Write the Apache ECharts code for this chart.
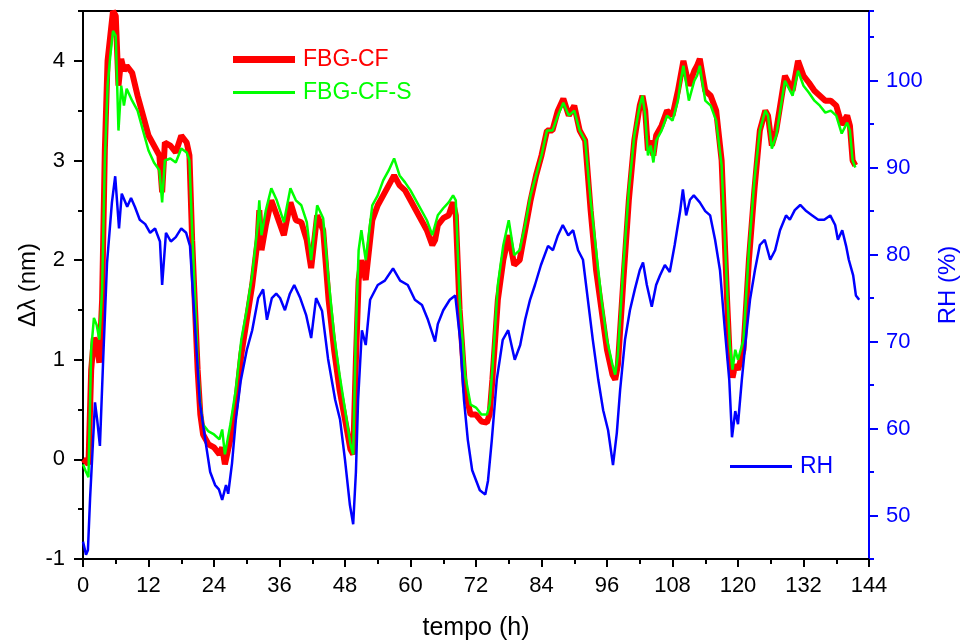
<!DOCTYPE html>
<html><head><meta charset="utf-8">
<script src="https://cdn.jsdelivr.net/npm/echarts@6/dist/echarts.min.js"></script>
<style>html,body{margin:0;padding:0;background:#fff}#c{width:962px;height:644px}</style>
</head><body><div id="c"></div>
<script>
// time (h) for the two FBG series
const tFBG = [
  0,0.5,1,1.5,2,2.5,3,3.5,4,4.5,
  5,5.5,6,6.5,7,7.5,8,9,10,11,
  12,13,14,14.5,15,16,17,18,19,19.5,
  20,21,21.5,22,23,24,25,25.5,26,27,
  28,29,30,31,32,32.3,32.7,33.5,34.5,35.5,
  36.8,38,39,40,41,41.8,42.9,44,45,46,
  47,48,49,49.5,50,50.5,51,51.8,53,54,
  55,56,57,58,59,60,61,62,63,64,
  64.5,65,66,67,67.8,68.3,69,70,71,72,
  73,74,74.5,75,76,77,78,79,80,81,
  82,83,84,85,86,87,88,89,90,91,
  92,93,94,95,96,97,97.5,98,99,100,
  101,102,102.5,103,103.5,104,104.5,105,106,107,
  108,109,109.5,110,111,112,112.5,113,114,115,
  116,117,118,118.5,119,119.5,120,121,122,123,
  124,125,125.5,126.2,127,128.6,130,131,132,133,
  134,135,136,137,138,139,140,140.5,141,141.5
];
// Δλ (nm) FBG-CF
const fbgCF = [
  0,-0.02,-0.05,0.9,1.22,1.15,0.97,1.6,3.1,4.0,
  4.25,4.5,4.45,3.75,4.02,3.9,3.95,3.88,3.65,3.45,
  3.25,3.15,3.05,2.68,3.18,3.15,3.08,3.25,3.18,3.05,
  2.2,0.9,0.45,0.25,0.15,0.12,0.05,0.12,-0.05,0.2,
  0.55,1.05,1.4,1.75,2.2,2.5,2.1,2.35,2.6,2.45,
  2.25,2.58,2.4,2.38,2.2,1.92,2.45,2.3,1.6,1.1,
  0.7,0.4,0.1,0.05,1.0,1.8,2.0,1.8,2.4,2.55,
  2.65,2.75,2.85,2.75,2.7,2.6,2.5,2.4,2.3,2.15,
  2.2,2.35,2.42,2.45,2.58,2.45,1.5,0.7,0.45,0.45,
  0.38,0.37,0.45,0.8,1.6,2.0,2.25,1.95,2.0,2.3,
  2.6,2.85,3.05,3.3,3.3,3.5,3.62,3.45,3.55,3.3,
  3.2,2.5,1.9,1.5,1.1,0.85,0.8,0.95,1.8,2.6,
  3.2,3.55,3.65,3.5,3.1,3.2,3.05,3.25,3.35,3.5,
  3.45,3.7,3.85,4.0,3.75,3.9,3.95,4.02,3.7,3.65,
  3.5,3.0,1.6,1.0,0.82,0.95,0.9,1.1,2.0,2.7,
  3.3,3.5,3.45,3.15,3.3,3.85,3.7,4.0,3.85,3.78,
  3.7,3.65,3.6,3.6,3.55,3.36,3.45,3.35,3.0,2.95
];
// Δλ (nm) FBG-CF-S
const fbgCFS = [
  -0.05,-0.12,-0.18,1.1,1.42,1.35,1.2,1.7,3.0,3.75,
  4.05,4.3,4.25,3.3,3.75,3.55,3.72,3.6,3.5,3.3,
  3.1,2.98,2.9,2.58,3.0,3.02,2.98,3.12,3.08,3.0,
  2.3,1.0,0.55,0.35,0.28,0.25,0.2,0.3,0.05,0.35,
  0.7,1.2,1.5,1.85,2.35,2.6,2.25,2.5,2.72,2.6,
  2.38,2.72,2.6,2.55,2.38,2.0,2.55,2.42,1.8,1.25,
  0.85,0.5,0.15,0.05,1.3,2.1,2.3,2.0,2.55,2.65,
  2.8,2.9,3.02,2.85,2.78,2.7,2.6,2.5,2.4,2.25,
  2.35,2.45,2.52,2.58,2.65,2.6,1.6,0.85,0.55,0.52,
  0.45,0.45,0.55,0.9,1.75,2.15,2.4,2.05,2.1,2.35,
  2.65,2.85,3.05,3.3,3.3,3.45,3.58,3.45,3.5,3.3,
  3.2,2.6,2.1,1.6,1.2,0.95,0.85,1.05,1.95,2.7,
  3.25,3.55,3.65,3.45,3.05,3.15,2.98,3.2,3.3,3.45,
  3.4,3.6,3.8,3.95,3.6,3.8,3.85,3.95,3.6,3.55,
  3.4,2.95,1.7,1.15,0.9,1.1,1.0,1.2,2.1,2.8,
  3.3,3.5,3.45,3.12,3.25,3.8,3.65,3.9,3.75,3.68,
  3.6,3.55,3.48,3.5,3.45,3.27,3.38,3.3,3.0,2.93
];
// time (h) for RH
const tRH = [
  0,0.55,0.9,1.3,2.2,2.6,3.1,3.7,4.4,5.3,
  5.9,6.6,7.1,8.1,8.8,9.5,10.4,11.4,12.3,13.2,
  14.1,14.5,15.2,16.1,17.0,18.0,18.9,19.6,20.2,20.9,
  21.4,22.4,23.3,24.2,24.9,25.5,26.2,26.6,27.3,28.0,
  28.9,30.0,31.0,32.1,33.0,33.7,34.6,35.4,36.1,37.0,
  37.9,38.7,39.8,40.9,41.8,42.7,43.8,44.9,46.2,47.1,
  48.0,48.9,49.5,50.0,50.4,51.1,51.8,52.6,54.0,55.3,
  56.8,58.1,59.5,60.8,62.1,63.2,64.5,65.0,66.0,67.2,
  68.2,69.1,69.8,70.5,71.3,72.7,73.7,74.2,74.9,75.8,
  76.9,77.9,79.1,80.1,81.0,81.9,82.8,83.9,85.2,86.1,
  87.0,87.9,88.9,89.8,90.7,91.6,92.5,93.4,94.4,95.3,
  96.2,97.1,97.8,98.4,99.3,100.2,101.1,102.0,102.6,103.3,
  104.2,105.0,105.7,106.6,107.5,108.4,109.4,109.9,110.5,111.2,
  111.9,113.0,114.0,114.9,115.8,116.7,117.6,118.4,118.9,119.5,
  120.0,120.7,121.5,122.2,123.1,124.0,124.9,125.9,126.8,127.7,
  128.8,129.5,130.4,131.4,132.5,133.6,134.7,135.8,136.9,137.8,
  138.3,139.1,139.8,140.3,141.1,141.6,142.2
];
// RH (%)
const rh = [
  47,45.5,46,52,63,61,58,68,79,86,
  89,83,87,85.5,86.5,85.5,84,83.5,82.5,83,
  81.5,76.5,82.5,81.5,82,83,82.5,81,75,68,
  63,58.7,55,53.5,53,51.8,53.5,52.5,56,61,
  65.5,69,71.3,75,76,72.5,75,75.5,75,73.6,
  75.5,76.5,75,73,70.4,75,73.5,68,63.3,61,
  56.4,51.2,49,55,63.3,71.3,69.6,74.8,76.5,77,
  78.4,77,76.5,74.8,74.2,72.5,70,72,73.6,74.8,
  75.3,70.2,63.3,58.7,55.2,52.9,52.4,54,58.7,65.6,
  70.2,71.3,67.9,69.6,72.5,74.8,76.5,78.8,81,80.5,
  82.2,83.4,82.2,82.8,80.5,79.4,74.8,70.2,65.6,62.1,
  59.8,55.8,59.5,64.4,70.2,73.6,76,78.2,79.1,76.5,
  74,76.5,77.6,78.8,78,81.1,85,87.5,84.5,86.3,
  86.8,86,85,84.5,81.7,78.2,71.3,65.6,59,62,
  60.5,65.6,70.7,74.8,78.2,81.1,81.7,79.4,80.5,82.8,
  84.5,84,85.1,85.7,85,84.5,84,84,84.5,83.4,
  81.7,82.8,81,79.4,77.6,75.3,74.8
];
const rhTicks = [50,60,70,80,90,100];

const FONT = "'Liberation Sans', Arial, sans-serif";
const RED = '#ff0000', GREEN = '#00ff00', BLUE = '#0000ff';
const chart = echarts.init(document.getElementById('c'), null, {renderer:'canvas'});
const pairs = (t, v) => t.map((x, i) => [x, v[i]]);

function legendBox(name, color, left, top, thick) {
  return {
    data: [{name: name, icon: 'rect', textStyle: {color: color}}],
    left: left, top: top, itemWidth: 62, itemHeight: thick, padding: 0,
    textStyle: {fontFamily: FONT, fontSize: 23, padding: [0, 0, 0, 3]}
  };
}

chart.setOption({
  animation: false,
  backgroundColor: '#fff',
  grid: {left: 83, right: 93, top: 11, bottom: 85, containLabel: false, outerBoundsMode: 'none'},
  legend: [
    legendBox('FBG-CF', RED, 233, 48, 7),
    legendBox('FBG-CF-S', GREEN, 233, 81, 3),
    legendBox('RH', BLUE, 730, 455, 3)
  ],
  xAxis: [
    {
      type: 'value', min: 0, max: 144, interval: 12, position: 'bottom',
      name: 'tempo (h)', nameLocation: 'middle', nameGap: 57,
      nameTextStyle: {fontFamily: FONT, fontSize: 25, color: '#000'},
      axisLine: {onZero: false, lineStyle: {color: '#000', width: 2}},
      axisTick: {inside: false, length: 8, lineStyle: {color: '#000', width: 2}},
      minorTick: {show: true, splitNumber: 2, length: 5, lineStyle: {color: '#000', width: 2}},
      axisLabel: {fontFamily: FONT, fontSize: 22, color: '#000', margin: 16},
      splitLine: {show: false}, minorSplitLine: {show: false}
    },
    {
      type: 'value', min: 0, max: 144, position: 'top',
      axisLine: {show: true, onZero: false, lineStyle: {color: '#000', width: 2}},
      axisTick: {show: false}, axisLabel: {show: false}, splitLine: {show: false}
    }
  ],
  yAxis: [
    {
      type: 'value', min: -1, max: 4.5, interval: 1, position: 'left',
      name: 'Δλ (nm)', nameLocation: 'middle', nameGap: 43, nameRotate: 90, nameMoveOverlap: false,
      nameTextStyle: {fontFamily: FONT, fontSize: 24, color: '#000'},
      axisLine: {show: true, onZero: false, lineStyle: {color: '#000', width: 2}},
      axisTick: {show: true, inside: false, length: 9, lineStyle: {color: '#000', width: 2}},
      axisLabel: {fontFamily: FONT, fontSize: 22, color: '#000', margin: 18,
        showMinLabel: true, showMaxLabel: false},
      splitLine: {show: false}
    },
    {
      type: 'value', min: 45, max: 108, position: 'right',
      name: 'RH (%)', nameLocation: 'middle', nameGap: 67, nameRotate: 90,
      nameTextStyle: {fontFamily: FONT, fontSize: 24, color: BLUE},
      axisLine: {show: true, onZero: false, lineStyle: {color: BLUE, width: 2}},
      axisTick: {show: true, inside: false, length: 9, customValues: rhTicks, lineStyle: {color: BLUE, width: 2}},
      axisLabel: {fontFamily: FONT, fontSize: 22, color: BLUE, margin: 17, customValues: rhTicks,
        showMinLabel: true, showMaxLabel: true},
      splitLine: {show: false}
    },
    {
      type: 'value', min: -1, max: 4.5, interval: 0.5, position: 'left',
      axisLine: {show: false, onZero: false}, axisLabel: {show: false}, splitLine: {show: false},
      axisTick: {show: true, inside: false, length: 5, lineStyle: {color: '#000', width: 2}}
    },
    {
      type: 'value', min: 45, max: 108, interval: 5, position: 'right',
      axisLine: {show: false, onZero: false}, axisLabel: {show: false}, splitLine: {show: false},
      axisTick: {show: true, inside: false, length: 5, lineStyle: {color: BLUE, width: 2}}
    }
  ],
  series: [
    {
      name: 'FBG-CF', type: 'line', xAxisIndex: 0, yAxisIndex: 0,
      data: pairs(tFBG, fbgCF), symbol: 'none', showSymbol: false, z: 2,
      lineStyle: {color: RED, width: 6}, itemStyle: {color: RED}
    },
    {
      name: 'FBG-CF-S', type: 'line', xAxisIndex: 0, yAxisIndex: 0,
      data: pairs(tFBG, fbgCFS), symbol: 'none', showSymbol: false, z: 3,
      lineStyle: {color: GREEN, width: 2.5}, itemStyle: {color: GREEN}
    },
    {
      name: 'RH', type: 'line', xAxisIndex: 0, yAxisIndex: 1,
      data: pairs(tRH, rh), symbol: 'none', showSymbol: false, z: 4,
      lineStyle: {color: BLUE, width: 2.5}, itemStyle: {color: BLUE}
    }
  ]
});
</script>
</body></html>
